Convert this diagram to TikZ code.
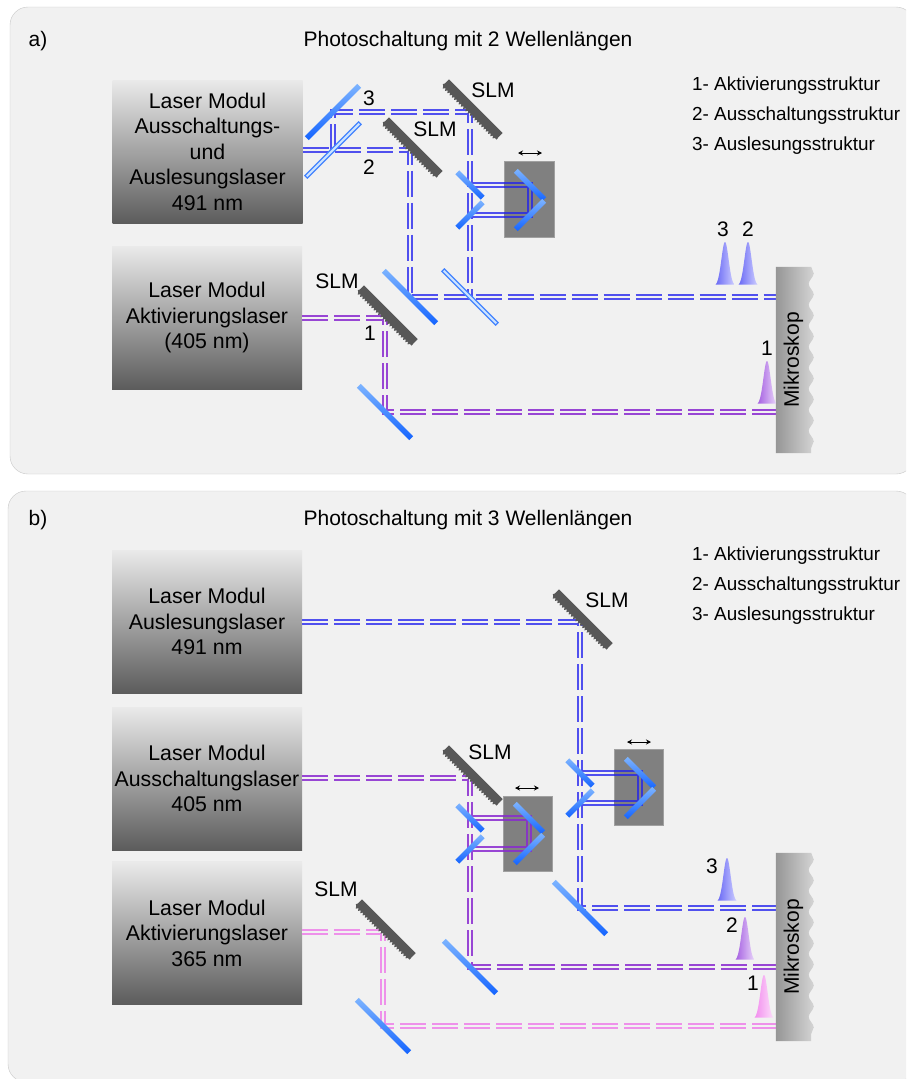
\documentclass[tikz,border=0pt]{standalone}
\usepackage{fontspec}
\setmainfont{Liberation Sans}
\usetikzlibrary{decorations.pathmorphing,arrows.meta,calc}

\definecolor{panelfill}{RGB}{241,241,241}
\definecolor{panelline}{RGB}{200,200,200}
\definecolor{boxtop}{RGB}{234,234,234}
\definecolor{boxbot}{RGB}{92,92,92}
\definecolor{beamblue}{RGB}{80,80,238}
\definecolor{beambluein}{RGB}{55,55,210}
\definecolor{beampurple}{RGB}{152,70,212}
\definecolor{beampurplein}{RGB}{135,55,195}
\definecolor{beampink}{RGB}{238,145,234}
\definecolor{mirrorblue}{RGB}{20,100,255}
\definecolor{mirrorlight}{RGB}{125,180,255}
\definecolor{splitlight}{RGB}{205,228,255}
\definecolor{slmgray}{RGB}{88,88,88}
\definecolor{delaygray}{RGB}{128,128,128}
\definecolor{delayedge}{RGB}{160,160,160}
\definecolor{scopeL}{RGB}{150,150,150}
\definecolor{scopeR}{RGB}{212,212,212}
\definecolor{pulseblueL}{RGB}{105,105,245}
\definecolor{pulseblueR}{RGB}{205,205,255}
\definecolor{pulsepurpleL}{RGB}{165,95,225}
\definecolor{pulsepurpleR}{RGB}{232,212,250}
\definecolor{pulsepinkL}{RGB}{242,140,238}
\definecolor{pulsepinkR}{RGB}{252,222,250}

% narrow gaussian pulse: centre x, base y, left colour, right colour
\newcommand{\gausspulse}[4]{%
  \shade[left color=#3, right color=#4]
    plot[domain=-9.5:9.5, samples=41, variable=\pp]
      ({#1+\pp},{#2-44*exp(-((\pp)*(\pp))/26)}) -- cycle;}

\begin{document}
\begin{tikzpicture}[x=1pt,y=-1pt,
  txt/.style={font=\fontsize{21}{25.5}\selectfont, inner sep=0pt},
  legend/.style={font=\fontsize{18.9}{23}\selectfont, inner sep=0pt, anchor=west},
  laserbox/.style={rectangle, minimum width=190pt, minimum height=143pt,
    top color=boxtop, bottom color=boxbot, align=center,
    font=\fontsize{21.3}{25.5}\selectfont, inner sep=0pt},
  beam/.style={draw=#1, line width=1.5pt, double=panelfill, double distance=2.1pt,
    dash pattern=on 26pt off 6pt},
  loopout/.style={draw=#1, line width=1.5pt, double=panelfill, double distance=2.1pt},
  loopin/.style={draw=#1, line width=1.5pt, double=delaygray, double distance=2.1pt},
  mirror/.style={rectangle, inner sep=0pt, minimum width=#1, minimum height=5.5pt,
    top color=mirrorlight, bottom color=mirrorblue},
  mirror/.default=74pt,
  splitter/.style={rectangle, inner sep=0pt, minimum width=76pt, minimum height=3.5pt,
    draw=mirrorblue!80, fill=splitlight, line width=1.2pt},
  slm/.style={rectangle, inner sep=0pt, minimum width=76pt, minimum height=8pt, fill=slmgray},
  serr/.style={slmgray, line width=1.8pt, decorate,
    decoration={zigzag, segment length=3.2pt, amplitude=1.2pt}},
  delaybox/.style={rectangle, fill=delaygray, draw=delayedge, line width=0.8pt, inner sep=0pt},
  shiftarrow/.style={line width=1pt, {Stealth[length=5pt,width=5pt]}-{Stealth[length=5pt,width=5pt]}},
  scopebody/.style={rectangle, inner sep=0pt, minimum width=35pt},
  wavy/.style={decoration={snake, segment length=21pt, amplitude=2.5pt}},
]
\useasboundingbox (0,0) rectangle (906,1079);
\clip (0,0) rectangle (906,1079);
\fill[white] (0,0) rectangle (906,1079);

% ---------- panel frames ----------
\draw[panelline, fill=panelfill, rounded corners=18pt] (10,7) rectangle (914,474);
\draw[panelline, fill=panelfill, rounded corners=18pt] (8,491) rectangle (914,1082);

% =====================================================
% a) two wavelengths
% =====================================================
\node[txt] (tagA) at (38,41) {a)};
\node[txt] (titleA) at (468,41) {Photoschaltung mit 2 Wellenlängen};
\node[legend] (legA1) at (692,86) {1- Aktivierungsstruktur};
\node[legend] (legA2) at (692,116) {2- Ausschaltungsstruktur};
\node[legend] (legA3) at (692,146) {3- Auslesungsstruktur};

\node[laserbox] (laA1) at (207.5,151.5) {Laser Modul\\Ausschaltungs-\\und\\Auslesungslaser\\491 nm};
\node[laserbox] (laA2) at (207,317.5) {Laser Modul\\Aktivierungslaser\\(405 nm)};

% beam corners
\coordinate (bsAc)   at (333,150);
\coordinate (mA3c)   at (333,112);
\coordinate (slmA2c) at (410,150);
\coordinate (slmA3c) at (470,112);
\coordinate (mA2c)   at (410,297);
\coordinate (bsA2c)  at (470,297);
\coordinate (slmA1c) at (385,318);
\coordinate (mA1c)   at (385,412);
\coordinate (roofA1) at (470,185);
\coordinate (roofA2) at (470,215);
\coordinate (retA1)  at (530,185);
\coordinate (retA2)  at (530,215);

\node[scopebody, minimum height=186pt] (scA) at (793.5,360) {};
\node[delaybox, minimum width=50pt, minimum height=76pt] (dlA) at (529,199) {};
\coordinate (arA1) at (518,153);
\coordinate (arA2) at (542,153);
\draw[shiftarrow] (arA1) -- (arA2);

% beams
\draw[beam=beamblue] (laA1.east |- bsAc) -- (slmA2c) -- (mA2c) -- (scA.west |- mA2c);
\draw[beam=beamblue] (bsAc) -- (mA3c) -- (slmA3c) -- (bsA2c);
\draw[loopout=beamblue] (roofA1) -- (dlA.west |- roofA1);
\draw[loopin=beambluein] (dlA.west |- roofA1) -- (retA1) -- (retA2) -- (dlA.west |- retA2);
\draw[loopout=beamblue] (dlA.west |- retA2) -- (roofA2);
\draw[beam=beampurple] (laA2.east |- slmA1c) -- (slmA1c) -- (mA1c) -- (scA.west |- mA1c);

% optics
\node[mirror, rotate=45] (mA3) at (mA3c) {};
\node[splitter, rotate=45] (bsA) at (bsAc) {};
\node[slm, rotate=-45] (slmA2) at ($(slmA2c)+(3,-3)$) {};
\draw[serr] (slmA2.south west) -- (slmA2.south east);
\node[slm, rotate=-45] (slmA3) at ($(slmA3c)+(3,-3)$) {};
\draw[serr] (slmA3.south west) -- (slmA3.south east);
\node[mirror, rotate=-45] (mA2) at (mA2c) {};
\node[splitter, rotate=-45] (bsA2) at (bsA2c) {};
\node[slm, rotate=-45] (slmA1) at ($(slmA1c)+(3,-3)$) {};
\draw[serr] (slmA1.south west) -- (slmA1.south east);
\node[mirror, rotate=-45] (mA1) at (mA1c) {};
\node[mirror=36pt, rotate=-45] (roofA1m) at (roofA1) {};
\node[mirror=36pt, rotate=45] (roofA2m) at (roofA2) {};
\node[mirror=40pt, rotate=-45] (retA1m) at (retA1) {};
\node[mirror=40pt, rotate=45] (retA2m) at (retA2) {};

% labels
\node[txt] (lslmA3) at (493,90) {SLM};
\node[txt] (lslmA2) at (435,129) {SLM};
\node[txt] (lslmA1) at (337,281) {SLM};
\node[txt] (lA3) at (369,98) {3};
\node[txt] (lA2) at (369,167) {2};
\node[txt] (lA1) at (370,333) {1};

% microscope
\shade[left color=scopeL, right color=scopeR]
  (scA.north west) -- (scA.north east)
  decorate[wavy]{-- (scA.south east)} -- (scA.south west) -- cycle;
\node[txt, rotate=90] (tscA) at (scA) {Mikroskop};

% pulses
\gausspulse{725}{286}{pulseblueL}{pulseblueR}
\gausspulse{748}{286}{pulseblueL}{pulseblueR}
\gausspulse{767}{405}{pulsepurpleL}{pulsepurpleR}
\node[txt] (pA3) at (723,229) {3};
\node[txt] (pA2) at (748,229) {2};
\node[txt] (pA1) at (767,348) {1};

% =====================================================
% b) three wavelengths
% =====================================================
\node[txt] (tagB) at (38,520) {b)};
\node[txt] (titleB) at (468,520) {Photoschaltung mit 3 Wellenlängen};
\node[legend] (legB1) at (692,556) {1- Aktivierungsstruktur};
\node[legend] (legB2) at (692,586) {2- Ausschaltungsstruktur};
\node[legend] (legB3) at (692,616) {3- Auslesungsstruktur};

\node[laserbox] (laB1) at (207,621.5) {Laser Modul\\Auslesungslaser\\491 nm};
\node[laserbox] (laB2) at (207,778.5) {Laser Modul\\Ausschaltungslaser\\405 nm};
\node[laserbox] (laB3) at (207,933) {Laser Modul\\Aktivierungslaser\\365 nm};

\coordinate (slmB3c) at (580,622);
\coordinate (mB3c)   at (580,908);
\coordinate (slmB2c) at (470,778);
\coordinate (mB2c)   at (470,967);
\coordinate (slmB1c) at (383,932);
\coordinate (mB1c)   at (383,1026);
\coordinate (roofB31) at (580,773);
\coordinate (roofB32) at (580,803);
\coordinate (retB31)  at (640,773);
\coordinate (retB32)  at (640,803);
\coordinate (roofB21) at (470,818);
\coordinate (roofB22) at (470,849);
\coordinate (retB21)  at (529,818);
\coordinate (retB22)  at (529,849);

\node[scopebody, minimum height=188pt] (scB) at (793.5,947) {};
\node[delaybox, minimum width=49pt, minimum height=76pt] (dlB3) at (638.5,787) {};
\node[delaybox, minimum width=49pt, minimum height=75pt] (dlB2) at (527.5,833.5) {};
\coordinate (arB31) at (627,742);
\coordinate (arB32) at (651,742);
\draw[shiftarrow] (arB31) -- (arB32);
\coordinate (arB21) at (515,788);
\coordinate (arB22) at (539,788);
\draw[shiftarrow] (arB21) -- (arB22);

% beams
\draw[beam=beamblue] (laB1.east |- slmB3c) -- (slmB3c) -- (mB3c) -- (scB.west |- mB3c);
\draw[loopout=beamblue] (roofB31) -- (dlB3.west |- roofB31);
\draw[loopin=beambluein] (dlB3.west |- roofB31) -- (retB31) -- (retB32) -- (dlB3.west |- retB32);
\draw[loopout=beamblue] (dlB3.west |- retB32) -- (roofB32);

\draw[beam=beampurple] (laB2.east |- slmB2c) -- (slmB2c) -- (mB2c) -- (scB.west |- mB2c);
\draw[loopout=beampurple] (roofB21) -- (dlB2.west |- roofB21);
\draw[loopin=beampurplein] (dlB2.west |- roofB21) -- (retB21) -- (retB22) -- (dlB2.west |- retB22);
\draw[loopout=beampurple] (dlB2.west |- retB22) -- (roofB22);

\draw[beam=beampink] (laB3.east |- slmB1c) -- (slmB1c) -- (mB1c) -- (scB.west |- mB1c);

% optics
\node[slm, rotate=-45] (slmB3) at ($(slmB3c)+(3,-3)$) {};
\draw[serr] (slmB3.south west) -- (slmB3.south east);
\node[slm, rotate=-45] (slmB2) at ($(slmB2c)+(3,-3)$) {};
\draw[serr] (slmB2.south west) -- (slmB2.south east);
\node[slm, rotate=-45] (slmB1) at ($(slmB1c)+(3,-3)$) {};
\draw[serr] (slmB1.south west) -- (slmB1.south east);
\node[mirror, rotate=-45] (mB3) at (mB3c) {};
\node[mirror, rotate=-45] (mB2) at (mB2c) {};
\node[mirror, rotate=-45] (mB1) at (mB1c) {};
\node[mirror=36pt, rotate=-45] (roofB31m) at (roofB31) {};
\node[mirror=36pt, rotate=45] (roofB32m) at (roofB32) {};
\node[mirror=40pt, rotate=-45] (retB31m) at (retB31) {};
\node[mirror=40pt, rotate=45] (retB32m) at (retB32) {};
\node[mirror=36pt, rotate=-45] (roofB21m) at (roofB21) {};
\node[mirror=36pt, rotate=45] (roofB22m) at (roofB22) {};
\node[mirror=40pt, rotate=-45] (retB21m) at (retB21) {};
\node[mirror=40pt, rotate=45] (retB22m) at (retB22) {};

% labels
\node[txt] (lslmB3) at (607,600) {SLM};
\node[txt] (lslmB2) at (490,752) {SLM};
\node[txt] (lslmB1) at (336,889) {SLM};

% microscope
\shade[left color=scopeL, right color=scopeR]
  (scB.north west) -- (scB.north east)
  decorate[wavy]{-- (scB.south east)} -- (scB.south west) -- cycle;
\node[txt, rotate=90] (tscB) at (scB) {Mikroskop};

% pulses
\gausspulse{727}{902}{pulseblueL}{pulseblueR}
\gausspulse{745}{961}{pulsepurpleL}{pulsepurpleR}
\gausspulse{764}{1019}{pulsepinkL}{pulsepinkR}
\node[txt] (pB3) at (712,866) {3};
\node[txt] (pB2) at (732,925) {2};
\node[txt] (pB1) at (753,983) {1};
\end{tikzpicture}
\end{document}
